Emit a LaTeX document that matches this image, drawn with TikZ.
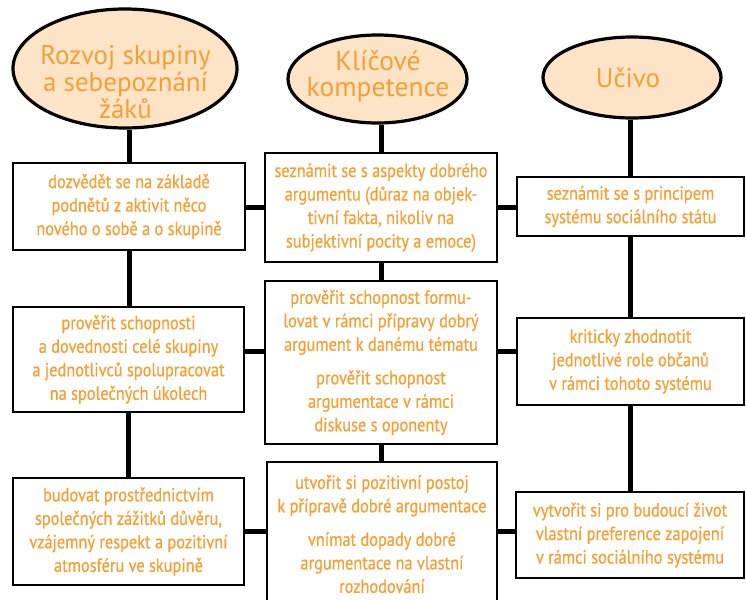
\documentclass[tikz,border=0pt]{standalone}
\usepackage{fontspec}
\setmainfont{PT Sans}
\newfontfamily\boxfont[FakeStretch=0.86,FakeBold=0.6]{PT Sans}
\usetikzlibrary{shapes.geometric}
\definecolor{txtorange}{HTML}{F5A033}
\definecolor{headfill}{HTML}{FDE4C6}

\begin{document}
\begin{tikzpicture}[x=1pt,y=-1pt,
  head/.style={ellipse, draw=black, line width=3.2pt, fill=headfill, inner sep=0pt},
  headtext/.style={text=txtorange, font=\fontsize{27}{27}\selectfont, align=center, inner sep=0pt},
  goalbox/.style={draw=black, line width=2.8pt, fill=white, inner sep=0pt,
    text=txtorange, align=center, font=\boxfont\fontsize{19}{23.5}\selectfont},
  conn/.style={line width=5pt, draw=black}
]
\useasboundingbox (0,0) rectangle (746,599);
\clip (0,0) rectangle (746,599);

% column headings
\node[head, minimum width=224pt, minimum height=119pt] (e1) at (125,68.5) {};
\node[head, minimum width=179pt, minimum height=88pt] (e2) at (377.5,79) {};
\node[head, minimum width=178pt, minimum height=81pt] (e3) at (632,77.5) {};
\node[headtext] (t1) at (125.5,82) {Rozvoj skupiny\\a sebepoznání\\žáků};
\node[headtext, font=\fontsize{27.5}{26}\selectfont] (t2) at (378,76) {Klíčové\\kompetence};
\node[headtext, anchor=base] (t3) at (628,88) {Učivo};

% left column
\node[goalbox, minimum width=232pt, minimum height=87pt] (b11) at (129,206.5)
  {dozvědět se na základě\\podnětů z aktivit něco\\nového o sobě a o skupině};
\node[goalbox, minimum width=231pt, minimum height=105pt] (b21) at (128.5,359.5)
  {prověřit schopnosti\\a dovednosti celé skupiny\\a jednotlivců spolupracovat\\na společných úkolech};
\node[goalbox, minimum width=231pt, minimum height=107pt] (b31) at (128.5,531.5)
  {budovat prostřednictvím\\společných zážitků důvěru,\\vzájemný respekt a pozitivní\\atmosféru ve skupině};

% middle column
\node[goalbox, minimum width=232pt, minimum height=109pt] (b12) at (381,207.5)
  {seznámit se s aspekty dobrého\\argumentu (důraz na objek-\\tivní fakta, nikoliv na\\subjektivní pocity a emoce)};
\node[goalbox, minimum width=232pt, minimum height=163pt] (b22) at (381,362.5)
  {prověřit schopnost formu-\\lovat v rámci přípravy dobrý\\argument k danému tématu\\[10pt]prověřit schopnost\\argumentace v rámci\\diskuse s oponenty};
\node[goalbox, minimum width=230pt, minimum height=144pt] (b32) at (382,534)
  {utvořit si pozitivní postoj\\k přípravě dobré argumentace\\[10pt]vnímat dopady dobré\\argumentace na vlastní\\rozhodování};

% right column
\node[goalbox, minimum width=227pt, minimum height=59pt] (b13) at (630.5,206.5)
  {seznámit se s principem\\systému sociálního státu};
\node[goalbox, minimum width=227pt, minimum height=87pt] (b23) at (630.5,361.5)
  {kriticky zhodnotit\\jednotlivé role občanů\\v rámci tohoto systému};
\node[goalbox, minimum width=228pt, minimum height=86pt] (b33) at (630,535)
  {vytvořit si pro budoucí život\\vlastní preference zapojení\\v rámci sociálního systému};

% row levels of the horizontal links
\coordinate (r1) at (0,207);
\coordinate (r2) at (0,351);
\coordinate (r3) at (0,531);

% vertical links
\draw[conn] (b11.north) -- (b11.north |- e1.south);
\draw[conn] (b12.north) -- (b12.north |- e2.south);
\draw[conn] (b13.north) -- (b13.north |- e3.south);
\draw[conn] (b11.south) -- (b11.south |- b21.north);
\draw[conn] (b21.south) -- (b21.south |- b31.north);
\draw[conn] (b12.south) -- (b12.south |- b22.north);
\draw[conn] (b22.south) -- (b22.south |- b32.north);
\draw[conn] (b13.south) -- (b13.south |- b23.north);
\draw[conn] (b23.south) -- (b23.south |- b33.north);

% horizontal links
\draw[conn] (b11.east |- r1) -- (b12.west |- r1);
\draw[conn] (b12.east |- r1) -- (b13.west |- r1);
\draw[conn] (b21.east |- r2) -- (b22.west |- r2);
\draw[conn] (b22.east |- r2) -- (b23.west |- r2);
\draw[conn] (b31.east |- r3) -- (b32.west |- r3);
\draw[conn] (b32.east |- r3) -- (b33.west |- r3);
\end{tikzpicture}
\end{document}
